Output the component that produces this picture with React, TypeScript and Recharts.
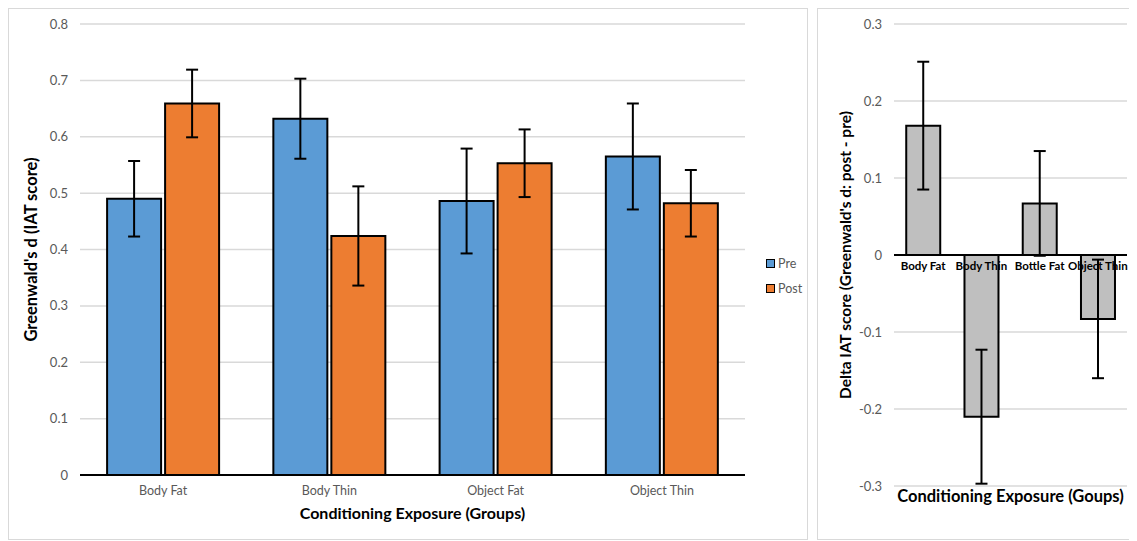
import React from "react";
import {
  Bar,
  BarChart,
  CartesianGrid,
  ErrorBar,
  Legend,
  ReferenceDot,
  ReferenceLine,
  XAxis,
  YAxis,
} from "recharts";

// left panel: pre / post IAT scores
const groups = ["Body Fat", "Body Thin", "Object Fat", "Object Thin"];
const seriesNames = ["Pre", "Post"];
const preMeans = [0.49, 0.632, 0.486, 0.565];
const preErrors = [0.067, 0.071, 0.093, 0.094];
const postMeans = [0.659, 0.424, 0.553, 0.482];
const postErrors = [0.06, 0.088, 0.06, 0.059];
const scoreTicks = [0, 0.1, 0.2, 0.3, 0.4, 0.5, 0.6, 0.7, 0.8];

// right panel: delta (post - pre)
const deltaGroups = ["Body Fat", "Body Thin", "Bottle Fat", "Object Thin"];
const deltaMeans = [0.168, -0.21, 0.067, -0.083];
const deltaErrors = [0.083, 0.087, 0.068, 0.077];
const deltaTicks = [-0.3, -0.2, -0.1, 0, 0.1, 0.2, 0.3];

const scoreData = groups.map((group, i) => ({
  group,
  pre: preMeans[i],
  preErr: preErrors[i],
  post: postMeans[i],
  postErr: postErrors[i],
}));

const deltaData = deltaGroups.map((group, i) => ({
  group,
  delta: deltaMeans[i],
  deltaErr: deltaErrors[i],
}));

const FONT = "Lato, 'Open Sans', sans-serif";
const GRID = "#d9d9d9";
const TICK = "#595959";

function verticalTitle(text: string, dx: number, fontSize: number) {
  return (props: any) => {
    const vb = props.viewBox || { x: 0, y: 0, width: 0, height: 0 };
    const x = vb.x + dx;
    const y = vb.y + vb.height / 2;
    return (
      <text
        x={x}
        y={y}
        transform={`rotate(-90 ${x} ${y})`}
        textAnchor="middle"
        dominantBaseline="central"
        fontSize={fontSize}
        fontWeight={700}
        fill="#000"
      >
        {text}
      </text>
    );
  };
}

function renderLegend(props: any) {
  const items = [...(props.payload || [])].sort(
    (a: any, b: any) => seriesNames.indexOf(a.value) - seriesNames.indexOf(b.value)
  );
  return (
    <div>
      {items.map((entry: any) => (
        <div
          key={entry.value}
          style={{ display: "flex", alignItems: "center", height: 25 }}
        >
          <span
            style={{
              display: "inline-block",
              width: 7,
              height: 7,
              background: entry.color,
              border: "1.5px solid #000",
              marginRight: 3,
            }}
          />
          <span style={{ fontSize: 12.5, color: TICK }}>{entry.value}</span>
        </div>
      ))}
    </div>
  );
}

const panelStyle: React.CSSProperties = {
  position: "absolute",
  top: 0,
  height: 532,
  border: `1px solid ${GRID}`,
  boxSizing: "border-box",
  background: "#fff",
};

function ScoreChart() {
  return (
    <BarChart
      width={798}
      height={530}
      data={scoreData}
      margin={{ top: 15, right: 62, left: 0, bottom: 0 }}
      barCategoryGap="16.3%"
      barGap={4}
    >
      <CartesianGrid vertical={false} stroke={GRID} strokeWidth={1.5} />
      <XAxis
        dataKey="group"
        height={64}
        tickLine={false}
        axisLine={{ stroke: "#000", strokeWidth: 2 }}
        tick={{ fill: TICK, fontSize: 12.5 }}
        tickMargin={5}
        label={{
          value: "Conditioning Exposure (Groups)",
          position: "insideTop",
          offset: 33,
          fontSize: 16,
          fontWeight: 700,
          fill: "#000",
        }}
      />
      <YAxis
        width={71}
        domain={[0, 0.8]}
        ticks={scoreTicks}
        tickLine={false}
        axisLine={false}
        tick={{ fill: TICK, fontSize: 13 }}
        tickMargin={6}
        label={{ content: verticalTitle("Greenwald's d (IAT score)", 22, 16.5) }}
      />
      <Legend
        layout="vertical"
        align="center"
        verticalAlign="middle"
        content={renderLegend}
        wrapperStyle={{ left: 757, top: 242, width: 50 }}
      />
      <Bar
        dataKey="pre"
        name={seriesNames[0]}
        fill="#5B9BD5"
        stroke="#000"
        strokeWidth={2}
        isAnimationActive={false}
      >
        <ErrorBar dataKey="preErr" width={6} stroke="#000" strokeWidth={2} />
      </Bar>
      <Bar
        dataKey="post"
        name={seriesNames[1]}
        fill="#ED7D31"
        stroke="#000"
        strokeWidth={2}
        isAnimationActive={false}
      >
        <ErrorBar dataKey="postErr" width={6} stroke="#000" strokeWidth={2} />
      </Bar>
    </BarChart>
  );
}

function DeltaChart() {
  return (
    <BarChart
      width={318}
      height={530}
      data={deltaData}
      margin={{ top: 15, right: 9, left: 0, bottom: 0 }}
      barCategoryGap="21%"
    >
      <CartesianGrid vertical={false} stroke={GRID} strokeWidth={1.5} />
      <XAxis
        dataKey="group"
        height={53}
        tick={false}
        tickLine={false}
        axisLine={false}
        label={{
          value: "Conditioning Exposure (Goups)",
          position: "insideTop",
          offset: 4,
          fontSize: 16.5,
          fontWeight: 700,
          fill: "#000",
        }}
      />
      <YAxis
        width={76}
        domain={[-0.3, 0.3]}
        ticks={deltaTicks}
        tickLine={false}
        axisLine={false}
        tick={{ fill: TICK, fontSize: 13 }}
        tickMargin={6}
        label={{
          content: verticalTitle(
            "Delta IAT score (Greenwald's d: post - pre)",
            27,
            15.5
          ),
        }}
      />
      <Bar
        dataKey="delta"
        fill="#BFBFBF"
        stroke="#000"
        strokeWidth={2}
        isAnimationActive={false}
      >
        <ErrorBar dataKey="deltaErr" width={6} stroke="#000" strokeWidth={2} />
      </Bar>
      <ReferenceLine y={0} stroke="#000" strokeWidth={2} />
      {deltaGroups.map((g) => (
        <ReferenceDot
          key={g}
          x={g}
          y={0}
          r={0}
          fill="none"
          stroke="none"
          label={{
            value: g,
            position: "bottom",
            offset: 7,
            fontSize: 11.5,
            fontWeight: 700,
            fill: "#000",
          }}
        />
      ))}
    </BarChart>
  );
}

export default function App() {
  return (
    <div
      style={{
        position: "relative",
        width: 1129,
        height: 533,
        overflow: "hidden",
        fontFamily: FONT,
      }}
    >
      <div style={{ ...panelStyle, left: 0, width: 800 }}>
        <ScoreChart />
      </div>
      <div style={{ ...panelStyle, left: 809, width: 320 }}>
        <DeltaChart />
      </div>
    </div>
  );
}
